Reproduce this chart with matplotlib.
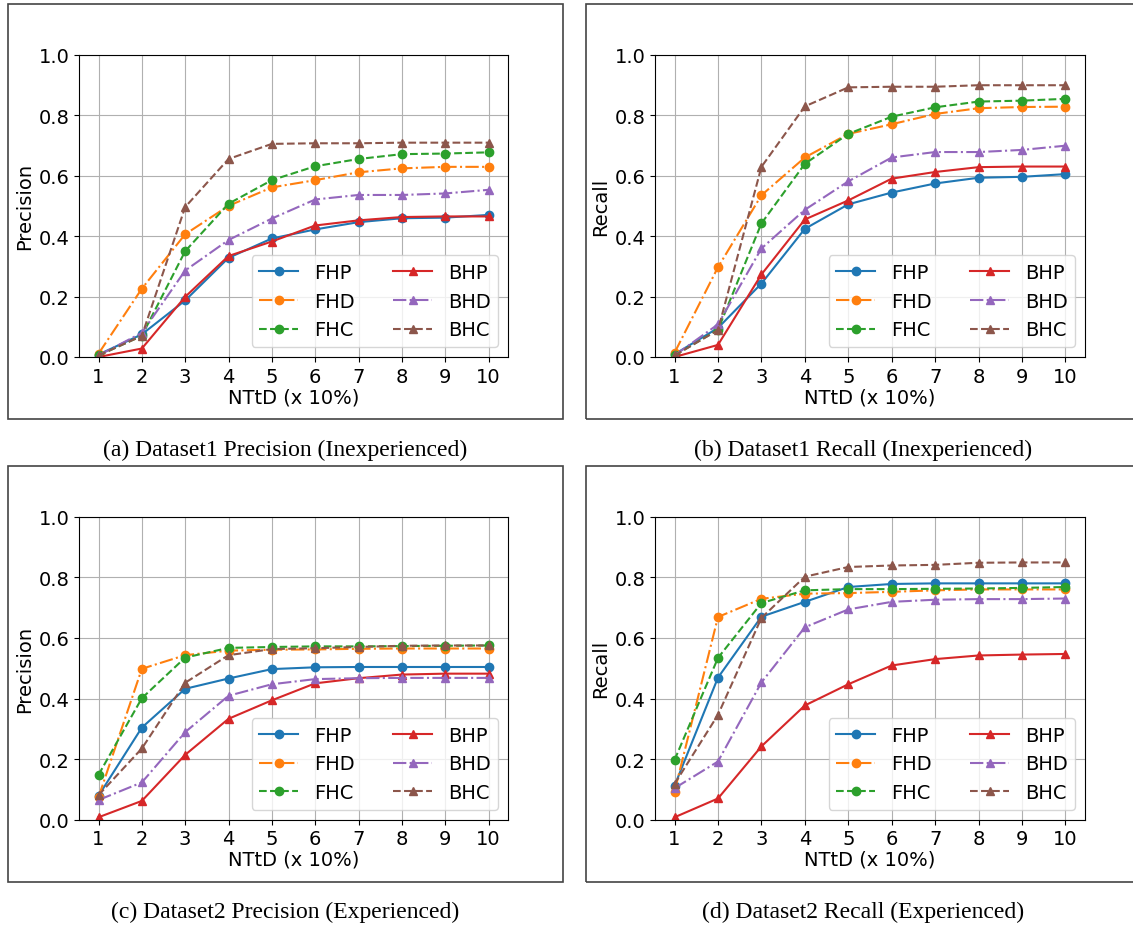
import matplotlib
matplotlib.use("Agg")
import matplotlib.pyplot as plt
from matplotlib.patches import Rectangle

x_vals = [1, 2, 3, 4, 5, 6, 7, 8, 9, 10]
series_names = ["FHP", "FHD", "FHC", "BHP", "BHD", "BHC"]

# (a) Dataset1 Precision
d1_prec_FHP = [0.008, 0.075, 0.187, 0.328, 0.392, 0.422, 0.446, 0.459, 0.461, 0.470]
d1_prec_FHD = [0.011, 0.226, 0.406, 0.500, 0.561, 0.585, 0.611, 0.624, 0.629, 0.629]
d1_prec_FHC = [0.005, 0.070, 0.350, 0.507, 0.585, 0.631, 0.655, 0.671, 0.673, 0.677]
d1_prec_BHP = [0.000, 0.028, 0.199, 0.334, 0.382, 0.435, 0.452, 0.463, 0.465, 0.465]
d1_prec_BHD = [0.005, 0.080, 0.286, 0.387, 0.458, 0.521, 0.536, 0.536, 0.541, 0.553]
d1_prec_BHC = [0.005, 0.070, 0.496, 0.655, 0.705, 0.707, 0.707, 0.709, 0.709, 0.709]

# (b) Dataset1 Recall
d1_rec_FHP = [0.009, 0.096, 0.243, 0.424, 0.505, 0.544, 0.574, 0.593, 0.596, 0.605]
d1_rec_FHD = [0.014, 0.297, 0.535, 0.660, 0.738, 0.770, 0.804, 0.823, 0.827, 0.828]
d1_rec_FHC = [0.005, 0.090, 0.442, 0.639, 0.738, 0.795, 0.826, 0.845, 0.848, 0.854]
d1_rec_BHP = [0.000, 0.040, 0.273, 0.455, 0.518, 0.590, 0.612, 0.628, 0.630, 0.630]
d1_rec_BHD = [0.005, 0.108, 0.359, 0.487, 0.581, 0.660, 0.678, 0.678, 0.685, 0.699]
d1_rec_BHC = [0.005, 0.089, 0.629, 0.829, 0.892, 0.894, 0.894, 0.899, 0.899, 0.899]

# (c) Dataset2 Precision
d2_prec_FHP = [0.079, 0.304, 0.432, 0.466, 0.497, 0.503, 0.504, 0.504, 0.504, 0.504]
d2_prec_FHD = [0.074, 0.498, 0.543, 0.558, 0.561, 0.562, 0.564, 0.565, 0.565, 0.565]
d2_prec_FHC = [0.148, 0.401, 0.535, 0.567, 0.570, 0.572, 0.572, 0.573, 0.574, 0.575]
d2_prec_BHP = [0.008, 0.062, 0.214, 0.333, 0.394, 0.450, 0.467, 0.479, 0.482, 0.482]
d2_prec_BHD = [0.065, 0.123, 0.289, 0.409, 0.447, 0.464, 0.467, 0.468, 0.468, 0.468]
d2_prec_BHC = [0.081, 0.235, 0.452, 0.543, 0.563, 0.566, 0.570, 0.574, 0.575, 0.575]

# (d) Dataset2 Recall
d2_rec_FHP = [0.112, 0.469, 0.670, 0.719, 0.768, 0.778, 0.780, 0.780, 0.780, 0.780]
d2_rec_FHD = [0.093, 0.669, 0.729, 0.746, 0.748, 0.752, 0.757, 0.760, 0.760, 0.760]
d2_rec_FHC = [0.197, 0.534, 0.715, 0.757, 0.761, 0.761, 0.762, 0.763, 0.765, 0.768]
d2_rec_BHP = [0.008, 0.070, 0.242, 0.377, 0.447, 0.509, 0.530, 0.542, 0.545, 0.547]
d2_rec_BHD = [0.104, 0.192, 0.453, 0.635, 0.694, 0.719, 0.726, 0.728, 0.728, 0.730]
d2_rec_BHC = [0.118, 0.346, 0.666, 0.802, 0.834, 0.839, 0.841, 0.848, 0.849, 0.849]

y_ticks = [0.0, 0.2, 0.4, 0.6, 0.8, 1.0]
x_label = "NTtD (x 10%)"
captions = ["(a) Dataset1 Precision (Inexperienced)",
            "(b) Dataset1 Recall (Inexperienced)",
            "(c) Dataset2 Precision (Experienced)",
            "(d) Dataset2 Recall (Experienced)"]
y_labels = ["Precision", "Recall", "Precision", "Recall"]

panels = [
    [d1_prec_FHP, d1_prec_FHD, d1_prec_FHC, d1_prec_BHP, d1_prec_BHD, d1_prec_BHC],
    [d1_rec_FHP, d1_rec_FHD, d1_rec_FHC, d1_rec_BHP, d1_rec_BHD, d1_rec_BHC],
    [d2_prec_FHP, d2_prec_FHD, d2_prec_FHC, d2_prec_BHP, d2_prec_BHD, d2_prec_BHC],
    [d2_rec_FHP, d2_rec_FHD, d2_rec_FHC, d2_rec_BHP, d2_rec_BHD, d2_rec_BHC],
]

colors = ["#1f77b4", "#ff7f0e", "#2ca02c", "#d62728", "#9467bd", "#8c564b"]
styles = ["-", "-.", "--", "-", "-.", "--"]
markers = ["o", "o", "o", "^", "^", "^"]

W, H = 1133, 929
fig = plt.figure(figsize=(W / 100, H / 100), dpi=100)

axes_px = [  # left, right, top, bottom in pixels
    (79, 508, 55.7, 358),
    (655, 1085, 55.7, 358),
    (79, 508, 517.7, 820.7),
    (655, 1085, 517.7, 820.7),
]
frames_px = [
    (8, 563, 5, 420),
    (586, 1140, 5, 420),
    (8, 563, 467, 883),
    (586, 1140, 467, 883),
]
caption_px = [(285.5, 450), (863, 450), (285.5, 912), (863, 912)]

FS = 14
for i in range(4):
    l, r, t, b = axes_px[i]
    ax = fig.add_axes([l / W, 1 - b / H, (r - l) / W, (b - t) / H])
    for j, name in enumerate(series_names):
        ax.plot(x_vals, panels[i][j], linestyle=styles[j], marker=markers[j],
                color=colors[j], label=name, linewidth=1.5, markersize=6)
    ax.set_ylim(0, 1.0)
    ax.set_yticks(y_ticks)
    ax.set_xticks(x_vals)
    ax.tick_params(labelsize=FS)
    ax.grid(True)
    ax.set_ylabel(y_labels[i], fontsize=FS, labelpad=3)
    ax.set_xlabel(x_label, fontsize=FS, labelpad=1)
    ax.legend(ncol=2, loc="lower right", fontsize=FS, labelspacing=0.5,
              columnspacing=2.0)

    fl, fr, ft, fb = frames_px[i]
    fig.add_artist(Rectangle((fl / W, 1 - fb / H), (fr - fl) / W, (fb - ft) / H,
                             transform=fig.transFigure, fill=False,
                             edgecolor="#444444", linewidth=1.2))
    cx, cy = caption_px[i]
    fig.text(cx / W, 1 - cy / H, captions[i], ha="center", va="center",
             fontsize=17, family="Liberation Serif")

fig.savefig("out.png", dpi=100)
